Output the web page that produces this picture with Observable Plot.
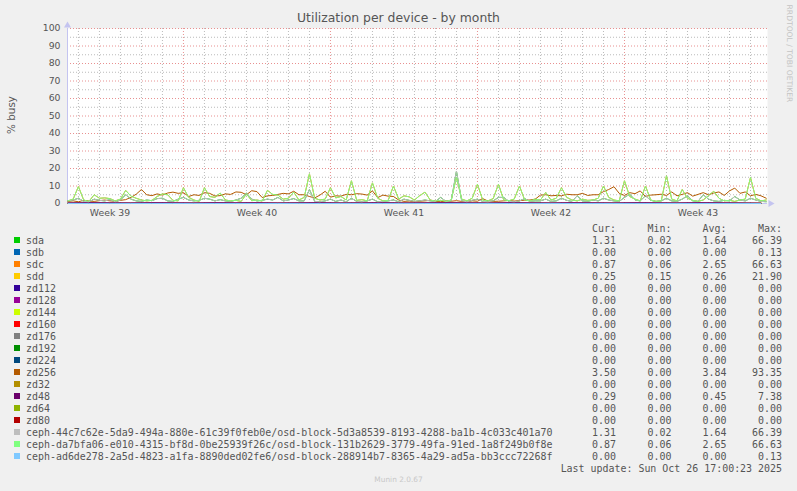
<!DOCTYPE html>
<html><head><meta charset="utf-8">
<script src="https://cdn.jsdelivr.net/npm/d3@7"></script>
<script src="https://cdn.jsdelivr.net/npm/@observablehq/plot@0.6"></script>
<style>
html,body{margin:0;padding:0;background:#f0f0f0;}
#wrap{position:relative;width:797px;height:491px;overflow:hidden;background:#f0f0f0;font-family:"DejaVu Sans",sans-serif;}
#chart{position:absolute;left:0;top:0;}
.t{position:absolute;white-space:pre;}
.mono{font-family:"DejaVu Sans Mono",monospace;font-size:9.95px;line-height:12px;color:#555;}
.sw{position:absolute;width:6px;height:6px;}
</style></head><body><div id="wrap"><div id="chart"></div></div>
<script>
// ---------- data ----------
const weekLabels = ["Week 39", "Week 40", "Week 41", "Week 42", "Week 43"];
const yTicks = [0, 10, 20, 30, 40, 50, 60, 70, 80, 90, 100];

// 6-hour samples starting 2025-09-23 12:00 UTC
const zd256 = [1.2,1.5,1.0,1.8,1.4,1.2,1.6,2.0,1.5,1.3,1.8,2.2,
  3.5,5.3,8.0,5.0,4.5,5.5,4.8,6.0,6.5,5.8,6.2,4.0,5.0,4.6,6.2,5.8,4.3,4.5,5.5,5.2,6.6,6.4,5.0,7.3,6.8,3.4,4.4,4.6,5.2,5.8,5.5,7.0,5.0,
  5.0,4.0,3.2,4.8,7.0,3.6,4.4,4.2,5.2,5.0,5.6,5.4,4.8,7.2,3.4,4.8,4.2,4.0,2.0,
  1.2,1.4,1.1,1.3,1.5,1.8,1.2,1.0,1.4,1.3,1.6,1.2,1.1,1.5,1.3,2.8,1.4,1.2,1.3,1.5,1.7,1.4,1.6,1.9,2.0,2.5,
  4.8,5.0,4.4,4.6,4.4,5.3,5.0,5.0,5.8,4.6,5.0,5.0,6.8,8.0,9.6,5.8,4.6,6.2,5.6,7.2,4.0,4.8,5.0,5.3,4.6,6.6,4.4,5.2,6.2,4.2,5.2,6.2,5.0,6.0,6.6,4.6,7.2,8.8,5.8,6.6,4.4,5.2,4.4,3.0];
const cephDa7 = [1.5,2.5,9.7,2.0,1.2,5.0,3.0,3.2,2.8,1.5,2.5,7.5,4.2,3.0,2.0,1.5,1.8,4.0,5.5,5.0,1.8,1.5,9.0,3.5,2.0,1.2,9.0,4.0,3.5,6.0,2.0,1.5,1.8,1.2,5.5,1.6,2.0,1.4,7.5,5.2,4.8,2.5,3.0,6.5,2.0,
  3.5,17.0,3.0,2.0,2.5,9.0,3.2,4.0,2.0,13.0,1.8,2.2,1.5,11.8,3.0,1.5,1.8,10.0,2.5,4.4,3.8,2.0,4.5,6.5,2.0,1.4,1.8,1.2,2.0,15.0,2.5,1.5,3.0,11.0,2.0,1.5,2.8,11.0,2.0,1.6,2.5,10.0,2.0,1.5,2.5,
  2.0,6.3,2.0,3.0,9.0,3.5,2.0,1.5,2.5,1.8,2.0,3.0,10.0,3.5,2.0,1.5,13.0,4.0,2.5,1.5,10.0,2.0,1.2,1.5,15.8,2.5,1.5,8.0,3.0,1.8,1.2,2.0,4.5,7.0,3.0,1.5,1.8,1.2,2.0,2.5,14.9,3.0,1.5,2.0];
const ceph44c = [1.5,2.0,3.0,1.2,1.0,2.5,1.8,1.5,2.2,1.0,2.0,5.0,2.5,1.5,1.2,2.0,1.6,2.8,3.0,1.5,1.2,2.5,3.5,2.0,1.5,1.8,3.0,2.5,1.5,2.2,1.5,1.2,2.0,3.0,6.0,2.5,1.5,1.8,2.5,2.0,3.5,1.5,2.0,2.8,1.5,
  1.5,8.0,1.2,1.0,1.5,2.5,1.2,2.0,1.0,3.0,1.2,1.0,1.5,2.5,1.0,1.2,1.5,2.0,1.0,2.5,1.8,1.2,1.5,2.0,1.5,1.2,3.5,1.2,1.5,18.5,1.5,1.0,1.8,2.5,1.2,1.0,1.5,3.5,3.5,1.2,1.0,1.5,2.8,1.2,1.5,
  1.5,2.5,1.2,1.5,3.0,1.8,1.2,4.4,1.5,1.2,2.0,1.5,3.0,2.0,1.5,1.2,3.5,5.3,2.0,1.5,4.4,1.8,1.2,1.5,3.0,1.5,1.2,2.5,4.4,1.5,1.2,5.0,2.5,1.5,1.2,1.8,1.5,4.0,2.0,1.5,3.0,2.0,1.2,1.0];
const sda = ceph44c;   // identical values (same device)
const sdc = cephDa7;   // identical values (same device)

// daily samples starting 2025-09-23 12:00 UTC
const zd48 = [0.4,0.5,0.45,0.4,0.5,0.45,0.4,0.5,0.45,0.5,0.4,0.45,0.5,0.4,0.45,0.5,0.4,0.45,0.5,0.45,0.4,0.5,0.45,0.4,0.5,0.45,0.4,0.5,0.45,0.4,0.5,0.45,0.4,0.3];
const sdd = [0.26,0.25,0.27,0.26,0.25,0.26,0.27,0.26,0.25,0.26,0.26,0.27,0.25,0.26,0.26,0.25,0.27,0.26,0.26,0.25,0.26,0.27,0.26,0.25,0.26,0.26,0.27,0.25,0.26,0.26,0.25,0.26,0.27,0.25];
const sdb = [0,0,0.01,0,0,0,0.01,0,0,0,0,0.01,0,0,0,0,0.01,0,0,0,0,0,0.01,0,0,0,0,0.01,0,0,0,0,0,0];
const idle = [0,0,0,0,0,0,0,0,0,0,0,0,0,0,0,0,0,0,0,0,0,0,0,0,0,0,0,0,0,0,0,0,0,0];

const names = ["sda","sdb","sdc","sdd","zd112","zd128","zd144","zd160","zd176","zd192","zd224","zd256","zd32","zd48","zd64","zd80",
  "ceph-44c7c62e-5da9-494a-880e-61c39f0feb0e/osd-block-5d3a8539-8193-4288-ba1b-4c033c401a70",
  "ceph-da7bfa06-e010-4315-bf8d-0be25939f26c/osd-block-131b2629-3779-49fa-91ed-1a8f249b0f8e",
  "ceph-ad6de278-2a5d-4823-a1fa-8890ded02fe6/osd-block-288914b7-8365-4a29-ad5a-bb3ccc72268f"];
const colors = ["#00CC00","#0066B3","#FF8000","#FFCC00","#330099","#990099","#CCFF00","#FF0000","#808080","#008F00","#00487D","#B35A00","#B38F00","#6B006B","#8FB300","#B30000","#BEBEBE","#80FF80","#80C9FF"];
const curV = [1.31,0.00,0.87,0.25,0,0,0,0,0,0,0,3.50,0,0.29,0,0,1.31,0.87,0.00];
const minV = [0.02,0.00,0.06,0.15,0,0,0,0,0,0,0,0.00,0,0.00,0,0,0.02,0.06,0.00];
const avgV = [1.64,0.00,2.65,0.26,0,0,0,0,0,0,0,3.84,0,0.45,0,0,1.64,2.65,0.00];
const maxV = [66.39,0.13,66.63,21.90,0,0,0,0,0,0,0,93.35,0,7.38,0,0,66.39,66.63,0.13];

// ---------- chart ----------
const H = 3600e3, D = 24 * H;
const weekBase = Date.UTC(2025, 8, 22); // Monday of week 39
const t0 = Date.UTC(2025, 8, 23, 12);
const xStart = new Date(weekBase + 1.48 * D);
const xEnd = new Date(weekBase + 34.81 * D);
const weekLabelDates = weekLabels.map((_, k) => new Date(weekBase + (3.5 + 7 * k) * D));
const weekLines = d3.utcMonday.range(new Date(weekBase + 1 * D), xEnd);
const dayLines = d3.utcDay.range(xStart, xEnd).filter(d => d.getUTCDay() !== 1);
const minorY = d3.range(5, 100, 10);
const majorY = d3.range(10, 101, 10);

const seriesData = [
  [sda, 6 * H], [sdb, D], [sdc, 6 * H], [sdd, D],
  [idle, D], [idle, D], [idle, D], [idle, D], [idle, D], [idle, D], [idle, D],
  [zd256, 6 * H], [idle, D], [zd48, D], [idle, D], [idle, D],
  [ceph44c, 6 * H], [cephDa7, 6 * H], [sdb, D]
];
const lineMarks = seriesData.map(([vals, step], k) =>
  Plot.line(vals, {x: (d, i) => new Date(t0 + i * step), y: d => d, stroke: colors[k], strokeWidth: 1}));

const axisColor = "#c4c4f0";
const chart = Plot.plot({
  width: 797, height: 220,
  marginTop: 28, marginBottom: 17, marginLeft: 67, marginRight: 30,
  style: {background: "transparent", fontFamily: "DejaVu Sans", fontSize: "9.3px", color: "#555", overflow: "visible"},
  x: {type: "utc", domain: [xStart, xEnd], ticks: weekLabelDates,
      tickFormat: d => weekLabels[weekLabelDates.findIndex(w => +w === +d)], tickSize: 0, tickPadding: 6, label: null},
  y: {domain: [0, 100], ticks: yTicks, tickSize: 0, tickPadding: 7, label: null},
  marks: [
    Plot.frame({fill: "white", stroke: "none"}),
    Plot.ruleX(dayLines, {stroke: "#bbbbbb", strokeDasharray: "1,2"}),
    Plot.ruleY(minorY, {stroke: "#bbbbbb", strokeDasharray: "1,2"}),
    Plot.ruleY(majorY, {stroke: "#e89090", strokeDasharray: "1,2"}),
    Plot.ruleX(weekLines, {stroke: "#e89090", strokeDasharray: "1,2"}),
    Plot.ruleX([xStart], {stroke: axisColor, y1: 0, y2: 100}),
    Plot.ruleY([0], {stroke: axisColor}),
    ...lineMarks,
    Plot.dot([xEnd], {x: d => d, y: () => 0, symbol: "triangle", rotate: 90, r: 2.6, fill: axisColor, stroke: "none", dx: 3}),
    Plot.dot([xStart], {x: d => d, y: () => 100, symbol: "triangle", r: 2.6, fill: axisColor, stroke: "none", dy: -3})
  ]
});
document.getElementById("chart").appendChild(chart);

// ---------- texts ----------
const wrap = document.getElementById("wrap");
function addText(txt, css, cls) {
  const el = document.createElement("div");
  el.className = "t " + (cls || "");
  el.textContent = txt;
  Object.assign(el.style, css);
  wrap.appendChild(el);
  return el;
}
addText("Utilization per device - by month", {left: "0px", width: "797px", textAlign: "center", top: "12px", fontSize: "12.4px", lineHeight: "12px", color: "#555"});
addText("% busy", {left: "-19px", top: "109px", width: "60px", textAlign: "center", fontSize: "10.4px", lineHeight: "12px", color: "#555", transform: "rotate(-90deg)"});
addText("RRDTOOL / TOBI OETIKER", {left: "729px", top: "49px", width: "120px", textAlign: "center", fontSize: "7.6px", lineHeight: "9px", color: "#c4c4c4", transform: "rotate(90deg)"});
addText("Munin 2.0.67", {left: "0px", width: "797px", textAlign: "center", top: "475px", fontSize: "7.4px", lineHeight: "9px", color: "#c8c8c8"});

const colRight = [616, 671.5, 726.5, 782];
const heads = ["Cur:", "Min:", "Avg:", "Max:"];
heads.forEach((h, c) => addText(h, {right: (797 - colRight[c]) + "px", top: "223px"}, "mono"));
names.forEach((n, r) => {
  const cy = 240 + 12 * r;
  const sw = document.createElement("div");
  sw.className = "sw";
  Object.assign(sw.style, {left: "14px", top: (cy - 3) + "px", background: colors[r]});
  wrap.appendChild(sw);
  addText(n, {left: "26px", top: (cy - 5) + "px"}, "mono");
  [curV, minV, avgV, maxV].forEach((arr, c) =>
    addText(arr[r].toFixed(2), {right: (797 - colRight[c]) + "px", top: (cy - 5) + "px"}, "mono"));
});
addText("Last update: Sun Oct 26 17:00:23 2025", {right: (797 - 782) + "px", top: "463px"}, "mono");
</script></body></html>
